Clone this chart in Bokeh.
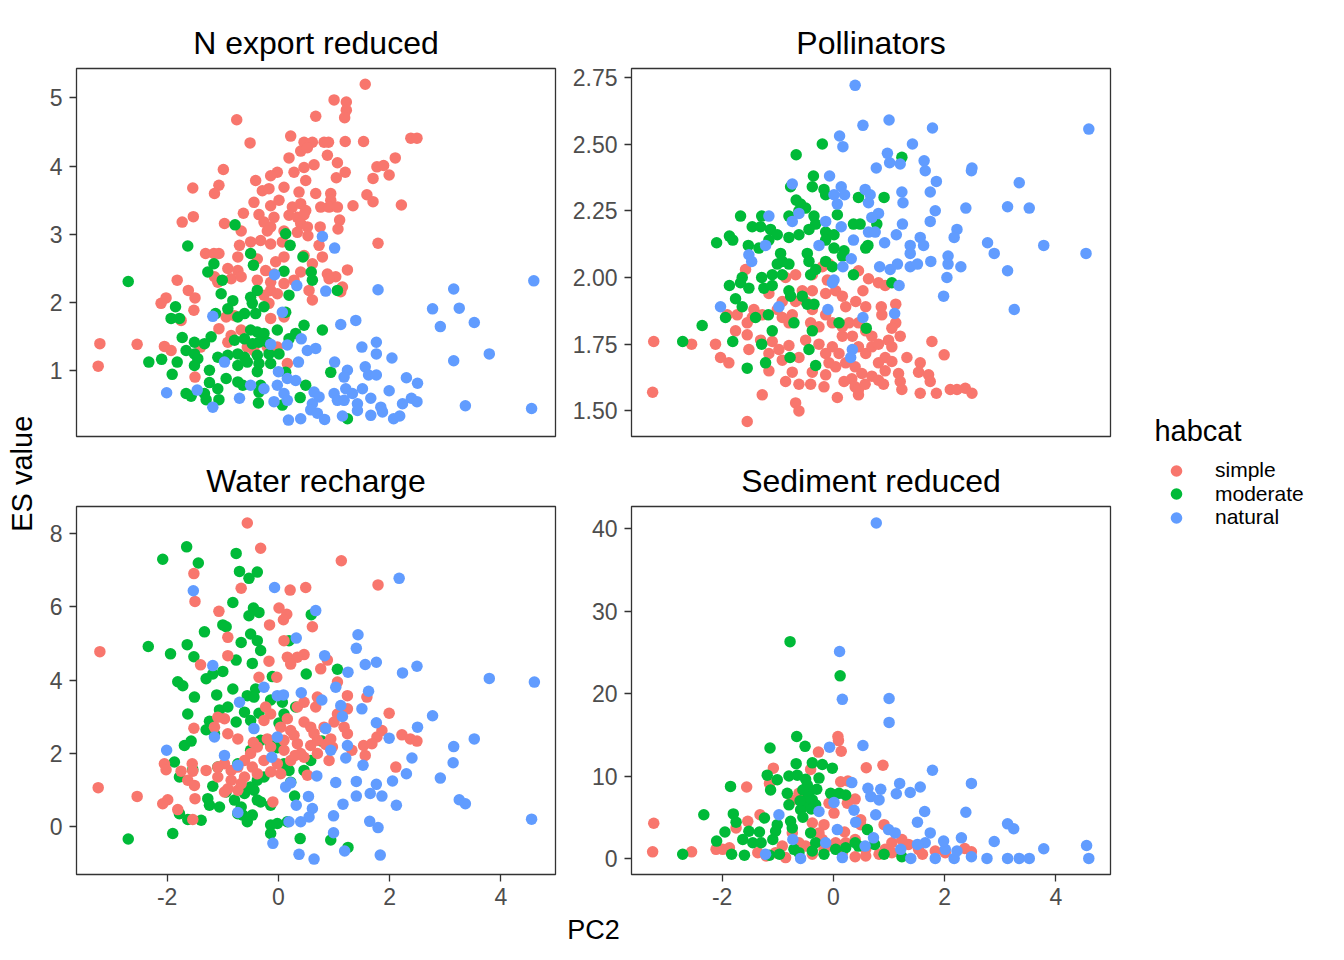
from math import pi
from bokeh.plotting import figure
from bokeh.models import Range1d, FixedTicker, Legend, LegendItem, Label, ColumnDataSource
from bokeh.layouts import row, column
from bokeh.embed import file_html
from bokeh.resources import INLINE

FONT = "Liberation Sans"

categories = ["simple", "moderate", "natural"]
colors = ["#F8766D", "#00BA38", "#619CFF"]

x_ticks = [-2, 0, 2, 4]
x_tick_labels = ["-2", "0", "2", "4"]

# ---------------- N export reduced (PC2, ES value) ----------------
nexp_simple = [(1.56,5.20),(1.00,4.97),(1.22,4.94),(1.22,4.82),(1.19,4.71),(0.67,4.73),(-0.75,4.68),(0.22,4.44),(2.38,4.41),(2.49,4.41),(1.53,4.36),(1.20,4.36),(0.46,4.35),(0.61,4.35),(0.82,4.35),(0.90,4.35),(-0.51,4.34),(0.40,4.22),(0.52,4.27),(0.19,4.12),(0.88,4.16),(2.10,4.12),(1.06,4.05),(0.64,4.02),(0.46,3.98),(0.28,3.91),(1.77,3.99),(1.89,4.01),(1.20,3.91),(1.99,3.87),(1.70,3.82),(-0.99,3.95),(-0.02,3.91),(-0.14,3.86),(1.04,3.83),(-0.41,3.79),(0.49,3.79),(-1.54,3.68),(-1.07,3.72),(-1.15,3.60),(-0.29,3.64),(-0.17,3.67),(0.10,3.69),(0.37,3.62),(0.67,3.60),(0.94,3.60),(0.94,3.50),(1.59,3.58),(1.70,3.48),(2.21,3.43),(1.34,3.42),(-0.44,3.47),(-0.14,3.42),(0.01,3.50),(0.25,3.40),(0.40,3.45),(0.49,3.35),(0.76,3.40),(0.91,3.40),(1.06,3.40),(-0.63,3.31),(-0.35,3.29),(-0.08,3.25),(0.19,3.28),(0.34,3.25),(0.46,3.29),(-1.53,3.26),(-1.73,3.18),(-0.97,3.16),(-0.26,3.18),(-0.14,3.11),(0.40,3.16),(0.52,3.11),(1.10,3.21),(0.75,3.11),(1.07,3.08),(-0.67,3.05),(-0.20,3.05),(0.10,3.05),(0.34,3.03),(0.53,2.98),(1.79,2.87),(-0.50,2.89),(-0.32,2.91),(-0.14,2.86),(0.07,2.89),(0.73,2.84),(-0.70,2.84),(-1.31,2.72),(-1.16,2.72),(-1.07,2.72),(-0.73,2.67),(-0.38,2.64),(-0.05,2.60),(0.10,2.67),(0.46,2.69),(0.61,2.57),(0.79,2.67),(1.24,2.48),(-0.91,2.50),(-0.73,2.47),(-0.23,2.47),(-0.08,2.42),(0.40,2.45),(0.88,2.42),(1.03,2.38),(0.91,2.35),(-1.15,2.38),(-1.09,2.30),(-1.82,2.33),(-0.85,2.35),(-0.67,2.38),(-0.38,2.33),(-0.14,2.30),(0.10,2.28),(0.28,2.33),(1.15,2.23),(1.12,2.16),(0.55,2.18),(-1.62,2.18),(-1.50,2.07),(-2.02,2.07),(-2.11,1.99),(-0.14,2.18),(-0.02,2.13),(-0.26,2.11),(0.61,2.04),(-0.17,1.99),(-1.52,1.89),(-0.94,1.79),(-0.79,1.81),(-0.14,1.77),(0.10,1.79),(-1.75,1.74),(-1.07,1.62),(-0.67,1.60),(-0.85,1.52),(-0.91,1.42),(-3.21,1.40),(-2.54,1.39),(-2.05,1.36),(-1.93,1.30),(-1.40,1.35),(-0.56,1.35),(-0.44,1.30),(-0.20,1.35),(-0.02,1.35),(-3.24,1.07),(-1.50,0.91),(0.16,1.11)]
nexp_moderate = [(-2.70,2.31),(-1.63,2.83),(-0.78,3.14),(0.13,3.01),(0.21,2.84),(0.44,2.67),(-0.50,2.72),(-0.45,2.55),(-1.16,2.57),(-1.27,2.45),(0.10,2.46),(0.59,2.45),(0.61,2.33),(-1.01,2.33),(1.06,2.18),(-1.03,2.13),(-0.82,2.03),(-0.50,2.08),(-0.38,2.18),(-0.47,1.99),(0.19,2.11),(-1.85,1.94),(-1.93,1.77),(-1.78,1.77),(-1.13,1.84),(-0.91,1.91),(-0.73,1.79),(-0.61,1.84),(-0.41,1.84),(-0.26,1.94),(0.13,1.86),(0.46,1.67),(0.79,1.60),(-0.02,1.60),(-1.73,1.49),(-1.51,1.42),(-1.33,1.40),(-1.21,1.50),(-0.79,1.45),(-0.61,1.47),(-0.50,1.60),(-0.38,1.57),(-0.26,1.55),(-0.47,1.40),(-0.35,1.42),(-0.20,1.42),(0.19,1.47),(0.31,1.55),(-1.66,1.30),(-1.51,1.25),(-1.45,1.18),(-2.33,1.13),(-2.10,1.17),(-1.82,1.13),(-1.09,1.20),(-0.91,1.23),(-0.73,1.25),(-0.61,1.20),(-0.38,1.23),(-0.17,1.25),(0.01,1.25),(-1.51,1.08),(-1.24,1.01),(-0.73,1.08),(-0.56,1.13),(-0.35,1.11),(-0.14,1.11),(-1.91,0.95),(-0.94,0.89),(-0.38,0.99),(0.13,0.98),(0.94,0.98),(-1.24,0.83),(-1.09,0.74),(-0.73,0.84),(-0.64,0.79),(-0.32,0.79),(-0.35,0.69),(-1.66,0.67),(-1.57,0.63),(-1.33,0.67),(-1.30,0.58),(-1.07,0.58),(0.49,0.79),(0.39,0.61),(-0.36,0.53),(0.07,0.50),(1.24,0.30)]
nexp_natural = [(4.59,2.32),(1.79,2.19),(3.15,2.20),(2.77,1.91),(3.25,1.92),(2.91,1.65),(3.52,1.71),(1.01,2.80),(0.79,2.97),(0.85,2.17),(0.33,2.25),(-0.07,2.41),(0.07,1.86),(-1.18,1.80),(1.12,1.68),(1.39,1.74),(1.76,1.42),(1.50,1.35),(1.76,1.25),(2.04,1.19),(3.79,1.25),(3.15,1.15),(0.41,1.47),(-0.14,1.39),(0.16,1.38),(0.52,1.30),(0.67,1.33),(0.36,1.13),(1.01,1.13),(1.24,1.01),(1.18,0.91),(1.56,1.06),(1.62,0.94),(1.76,0.94),(2.30,0.90),(2.50,0.82),(1.99,0.71),(0.00,0.99),(0.16,0.89),(0.31,0.86),(-0.97,1.13),(-2.01,0.68),(-1.46,0.72),(-0.70,0.60),(-1.18,0.47),(-0.50,0.79),(-0.26,0.74),(-0.02,0.79),(0.10,0.67),(0.16,0.57),(-0.08,0.55),(0.64,0.69),(0.73,0.62),(0.61,0.52),(0.58,0.43),(0.70,0.38),(1.00,0.67),(1.06,0.57),(1.18,0.57),(1.21,0.74),(1.33,0.67),(1.51,0.74),(1.42,0.52),(1.42,0.42),(1.66,0.60),(1.84,0.47),(1.87,0.40),(2.23,0.52),(2.39,0.60),(2.49,0.55),(2.07,0.30),(2.18,0.34),(1.66,0.35),(1.15,0.34),(0.18,0.28),(0.40,0.30),(0.83,0.29),(3.36,0.49),(4.55,0.45)]

# ---------------- Pollinators ----------------
poll_simple = [(-3.23,1.76),(-3.25,1.57),(-2.55,1.75),(-1.55,1.46),(-1.28,1.56),(-0.68,1.53),(-0.62,1.50),(0.07,1.55),(0.45,1.56),(-2.12,1.75),(-2.03,1.70),(-1.88,1.68),(-1.76,1.80),(-1.55,1.785),(-1.52,1.73),(-1.58,2.03),(-1.91,1.86),(-1.73,1.86),(-1.43,1.88),(-1.16,1.94),(-1.01,1.88),(-1.31,1.765),(-1.16,1.715),(-1.10,1.76),(-0.98,1.73),(-0.92,1.85),(-0.80,1.83),(-0.74,1.86),(-0.68,1.91),(-0.92,1.91),(-1.16,1.65),(-0.92,1.69),(-0.80,1.745),(-0.74,1.645),(-0.86,1.61),(-0.62,1.60),(-0.41,1.60),(-0.17,1.59),(-0.38,1.645),(-0.14,1.635),(-0.50,1.765),(-0.56,1.95),(-0.38,1.95),(-0.86,2.00),(-0.68,2.01),(-0.41,1.83),(-0.14,1.86),(-0.02,1.83),(-0.26,1.815),(-0.08,2.05),(-0.11,1.99),(-0.14,1.94),(0.04,1.95),(0.16,1.93),(-0.26,1.75),(-0.02,1.74),(-0.14,1.715),(0.10,1.715),(0.22,1.68),(-0.08,1.68),(0.04,1.665),(0.16,1.78),(0.34,1.78),(0.22,1.89),(0.40,1.91),(0.58,1.89),(0.45,2.025),(0.63,1.995),(0.81,1.98),(0.93,1.97),(0.53,1.95),(0.16,1.815),(0.28,1.83),(0.45,1.83),(0.58,1.80),(0.69,1.78),(0.45,1.74),(0.58,1.715),(0.69,1.74),(0.81,1.75),(0.99,1.765),(1.05,1.74),(0.86,1.89),(0.87,1.86),(1.12,1.90),(1.12,1.83),(1.05,1.81),(1.20,1.78),(1.32,1.70),(0.93,1.70),(0.81,1.68),(0.93,1.65),(1.05,1.685),(0.39,1.665),(0.51,1.64),(0.33,1.62),(0.19,1.61),(0.39,1.59),(0.45,1.58),(0.57,1.60),(0.69,1.63),(0.81,1.615),(0.90,1.60),(1.17,1.64),(1.20,1.61),(1.23,1.58),(1.56,1.68),(1.53,1.645),(1.71,1.635),(1.74,1.61),(1.56,1.566),(1.85,1.566),(1.77,1.76),(1.99,1.71),(2.10,1.58),(2.22,1.58),(2.37,1.585),(2.49,1.566),(-0.38,2.01),(-0.20,2.04),(-0.50,1.91),(-0.38,1.88),(-0.62,1.70),(-1.46,1.85),(-1.55,1.83),(-1.28,1.86)]
poll_moderate = [(-0.67,2.46),(-0.20,2.50),(1.23,2.45),(-0.36,2.38),(-0.38,2.34),(-0.17,2.33),(-0.14,2.31),(-0.77,2.34),(0.45,2.30),(0.91,2.30),(-0.67,2.29),(-0.59,2.275),(-0.50,2.26),(-1.67,2.23),(-1.29,2.23),(-1.46,2.19),(-1.31,2.19),(-0.80,2.23),(-0.62,2.25),(-0.35,2.23),(-0.32,2.20),(-0.44,2.18),(0.07,2.235),(0.78,2.20),(0.36,2.20),(0.48,2.20),(-1.13,2.18),(-1.01,2.16),(-1.16,2.14),(-0.80,2.15),(-0.62,2.16),(-0.14,2.17),(0.01,2.16),(-0.14,2.14),(-1.87,2.155),(-1.81,2.14),(-2.10,2.13),(-1.53,2.12),(-1.34,2.11),(-0.95,2.09),(-0.92,2.06),(0.01,2.11),(0.19,2.10),(0.16,2.08),(0.62,2.12),(0.58,2.11),(-0.47,2.09),(-0.44,2.06),(-1.01,2.05),(-0.80,2.05),(-0.14,2.06),(-0.02,2.04),(-1.10,2.01),(-0.92,2.01),(-1.64,2.00),(-1.29,2.00),(-0.41,2.01),(-0.32,2.03),(0.36,2.01),(-1.87,1.97),(-1.67,1.98),(-1.52,1.96),(-1.25,1.96),(-1.10,1.97),(-0.80,1.95),(-0.77,1.93),(-0.56,1.93),(-0.47,1.90),(-0.35,1.90),(1.05,1.98),(-1.76,1.92),(-1.64,1.89),(-1.94,1.85),(-1.40,1.85),(-1.17,1.86),(-2.36,1.82),(-0.71,1.83),(0.10,1.83),(0.59,1.81),(-1.10,1.80),(-0.38,1.80),(-2.71,1.76),(-1.81,1.76),(-1.29,1.75),(-0.44,1.73),(-0.78,1.70),(-1.22,1.68),(-0.32,1.67),(-1.55,1.66)]
poll_natural = [(0.39,2.72),(0.53,2.57),(1.00,2.59),(1.78,2.56),(4.59,2.556),(0.11,2.53),(0.17,2.49),(1.42,2.50),(0.97,2.465),(1.01,2.43),(1.20,2.425),(1.63,2.437),(1.65,2.40),(0.77,2.41),(2.49,2.41),(2.48,2.40),(-0.07,2.38),(-0.74,2.35),(1.85,2.36),(3.34,2.355),(0.14,2.34),(0.20,2.31),(0.01,2.31),(0.57,2.33),(0.66,2.31),(0.63,2.28),(1.23,2.32),(1.25,2.28),(1.74,2.32),(0.07,2.275),(2.38,2.26),(3.13,2.265),(3.52,2.26),(1.83,2.25),(0.81,2.24),(0.69,2.225),(-1.16,2.23),(-0.62,2.24),(-0.74,2.21),(1.74,2.21),(-0.14,2.21),(0.14,2.19),(1.24,2.20),(2.22,2.18),(2.17,2.15),(0.63,2.17),(0.75,2.17),(1.13,2.16),(0.36,2.14),(1.56,2.15),(1.62,2.12),(2.77,2.13),(3.78,2.12),(0.92,2.13),(-0.26,2.12),(1.38,2.12),(-1.22,2.12),(2.89,2.09),(4.54,2.09),(1.38,2.09),(-1.52,2.085),(-1.47,2.06),(2.06,2.08),(2.06,2.05),(0.32,2.07),(1.75,2.06),(0.17,2.04),(0.83,2.04),(1.02,2.03),(1.15,2.05),(1.38,2.04),(1.51,2.05),(2.29,2.04),(3.13,2.025),(2.04,2.00),(0.01,1.99),(-0.02,1.98),(1.18,1.97),(1.98,1.93),(-2.03,1.89),(-0.98,1.89),(-0.10,1.88),(3.25,1.88),(0.53,1.85),(1.10,1.865),(0.34,1.73),(0.31,1.70)]

# ---------------- Water recharge ----------------
water_simple = [(-0.56,8.29),(-0.32,7.60),(1.13,7.26),(-1.52,6.91),(1.79,6.60),(-0.67,6.51),(0.21,6.46),(0.49,6.53),(-1.50,6.15),(-1.07,5.88),(0.01,5.97),(0.15,5.80),(0.09,5.65),(-0.16,5.51),(0.61,5.46),(-0.91,5.17),(0.10,5.08),(-0.91,4.67),(0.16,4.63),(0.46,4.70),(0.34,4.63),(-3.21,4.78),(-1.40,4.42),(-0.17,4.52),(0.22,4.44),(0.76,4.31),(0.88,4.55),(-0.03,4.08),(-0.35,4.08),(1.06,3.95),(1.24,3.58),(0.70,3.54),(1.59,3.54),(0.34,3.27),(0.46,3.40),(0.67,3.27),(1.06,3.08),(1.24,3.22),(1.99,3.10),(-0.23,3.27),(-0.14,3.08),(-0.26,2.90),(-1.09,2.99),(-0.97,2.95),(-1.52,2.69),(-1.15,2.72),(-0.91,2.54),(-0.73,2.40),(0.04,2.72),(0.22,2.63),(0.46,2.86),(0.58,2.72),(0.82,2.72),(1.00,2.86),(1.18,2.72),(1.24,2.54),(1.77,2.45),(1.86,2.63),(2.22,2.51),(2.37,2.40),(2.49,2.34),(1.53,2.22),(1.68,2.27),(1.32,2.09),(1.56,1.95),(0.10,2.36),(0.34,2.27),(0.58,2.22),(0.70,2.36),(0.94,2.40),(0.97,2.18),(-0.38,2.18),(-0.14,2.18),(0.10,2.09),(-0.50,2.00),(-0.61,1.81),(-0.73,1.63),(-0.26,1.81),(-0.02,1.72),(0.22,1.81),(0.46,1.90),(0.70,2.00),(0.91,1.81),(2.11,1.63),(-0.97,1.72),(-0.85,1.54),(-1.09,1.63),(-2.05,1.72),(-2.02,1.56),(-1.55,1.72),(-1.54,1.52),(-1.75,1.52),(-1.30,1.54),(-0.47,1.63),(-0.38,1.45),(-0.14,1.50),(0.04,1.45),(0.52,1.41),(-1.09,1.36),(-0.85,1.27),(-0.61,1.36),(-1.63,1.27),(-1.51,1.13),(-0.91,1.04),(-0.73,1.00),(-0.67,1.18),(-0.97,0.95),(-3.24,1.07),(-2.54,0.83),(-1.99,0.74),(-2.08,0.63),(-1.50,0.77),(-1.81,0.47),(-0.10,0.68),(-1.54,0.20),(0.28,2.50),(0.40,2.00),(0.64,2.55),(0.16,2.95),(-0.20,2.40),(-0.45,2.30),(0.85,2.25),(0.30,1.95)]
water_moderate = [(-1.65,7.64),(-2.08,7.30),(-1.44,7.20),(-0.76,7.46),(-0.70,6.97),(-0.53,6.78),(-0.38,6.95),(-0.82,6.12),(-0.45,5.97),(-0.35,5.85),(-0.53,5.76),(0.59,5.79),(-1.33,5.32),(-1.00,5.51),(-0.94,5.46),(-0.50,5.26),(-0.38,5.08),(-0.32,4.81),(-0.47,4.46),(-0.67,5.03),(0.19,5.08),(-2.34,4.92),(-1.64,4.97),(-1.94,4.72),(-1.52,4.64),(-0.76,4.55),(-1.00,4.24),(-1.18,4.17),(-1.30,4.04),(-1.81,3.96),(-1.72,3.85),(0.50,4.17),(1.06,4.30),(-0.11,4.10),(-0.82,3.76),(-0.56,3.58),(-0.41,3.76),(-0.44,3.54),(-1.11,3.60),(-1.51,3.54),(-0.14,3.46),(0.07,3.40),(-1.06,3.19),(-0.91,3.27),(-1.63,3.08),(-0.61,3.13),(-0.35,3.10),(0.10,3.08),(0.31,3.27),(-1.24,2.88),(-0.76,2.86),(-0.50,2.90),(0.01,2.83),(-1.30,2.65),(-1.15,2.54),(-1.69,2.22),(-1.57,2.34),(-0.32,2.36),(-0.14,2.22),(-0.02,2.16),(0.78,2.34),(-0.50,2.09),(-1.87,1.77),(-1.54,1.56),(-1.78,1.36),(-1.09,1.63),(-0.73,1.72),(0.10,1.72),(0.19,1.54),(0.58,1.81),(0.46,1.54),(-0.38,1.27),(-0.26,1.36),(-0.50,1.09),(-0.61,0.91),(-0.44,1.00),(-1.18,1.11),(0.22,1.22),(-0.94,0.95),(-1.27,0.77),(-1.24,0.59),(-1.06,0.54),(-0.79,0.73),(-0.67,0.54),(-0.38,0.73),(-0.32,0.68),(0.29,0.84),(-0.14,0.59),(-0.73,0.36),(-0.64,0.32),(-0.47,0.32),(-1.78,0.36),(-1.63,0.20),(-1.39,0.18),(-0.56,0.14),(-0.14,0.05),(-0.02,0.09),(0.16,0.14),(-0.14,-0.18),(-1.90,-0.18),(-2.70,-0.33),(0.39,-0.32),(0.94,-0.36),(1.25,-0.56)]
water_natural = [(2.17,6.78),(-0.07,6.53),(-1.53,6.44),(0.67,5.90),(0.32,5.15),(1.43,5.24),(1.40,4.87),(0.83,4.67),(-1.18,4.40),(1.56,4.43),(1.76,4.49),(2.49,4.38),(2.23,4.20),(1.25,4.22),(3.79,4.05),(4.60,3.95),(-0.26,3.81),(1.03,3.81),(1.62,3.70),(0.41,3.66),(-0.02,3.58),(0.09,3.60),(0.78,3.46),(-0.70,3.40),(1.12,3.31),(1.50,3.22),(1.15,3.01),(2.77,3.03),(1.76,2.84),(0.85,2.68),(2.50,2.72),(-0.44,2.68),(-1.15,2.45),(-0.02,2.45),(1.99,2.42),(3.52,2.40),(1.24,2.22),(3.15,2.19),(-2.01,2.09),(-0.97,1.95),(0.94,2.09),(-0.12,1.90),(2.40,1.88),(1.21,1.88),(3.14,1.75),(1.52,1.68),(-0.73,1.68),(2.30,1.45),(0.69,1.39),(2.91,1.33),(2.05,1.25),(1.03,1.21),(1.40,1.24),(1.76,1.16),(0.13,1.09),(0.22,1.20),(1.65,0.91),(1.86,0.84),(1.40,0.84),(0.54,0.83),(3.25,0.74),(3.36,0.63),(1.16,0.62),(2.12,0.59),(0.32,0.59),(0.61,0.50),(0.55,0.27),(0.99,0.30),(-0.73,0.39),(0.40,0.14),(0.19,0.14),(1.64,0.15),(1.79,-0.02),(4.55,0.21),(0.99,-0.16),(-0.10,-0.45),(1.19,-0.66),(0.37,-0.75),(0.64,-0.88),(1.83,-0.77)]

# ---------------- Sediment reduced ----------------
sed_simple = [(-3.23,4.27),(-3.25,0.8),(-2.55,0.8),(-2.11,1.1),(-1.99,1.1),(-1.87,1.3),(-1.56,8.66),(-1.54,4.5),(-1.75,3.7),(-1.32,5.3),(-1.08,10.95),(-1.15,9.1),(0.08,14.8),(0.09,14.3),(0.14,13.0),(-0.27,12.9),(0.59,11.0),(0.89,11.3),(0.13,9.3),(0.26,9.4),(-0.41,10.8),(0.39,7.2),(0.25,6.7),(-0.08,6.7),(0.01,5.5),(-0.62,7.9),(-0.74,7.1),(0.49,4.7),(0.49,4.1),(0.20,3.2),(-0.38,4.3),(-0.17,4.1),(-0.26,3.1),(0.91,4.1),(1.23,2.3),(1.35,1.7),(1.53,1.1),(1.83,0.9),(2.36,1.2),(2.48,0.8),(-0.20,2.3),(-0.08,1.5),(0.04,1.9),(0.22,1.9),(0.39,2.3),(0.58,1.1),(-0.92,1.5),(-0.86,0.1),(-1.04,0.7),(-1.36,0.7),(-1.21,0.3),(-0.50,1.5),(-0.38,0.5),(0.16,0.7),(0.39,0.2),(0.58,0.3),(0.82,0.5),(1.05,0.7),(1.05,1.9),(0.93,1.1),(1.60,0.5),(2.01,0.7),(-0.74,3.1),(-0.62,1.9),(-0.17,1.1)]
sed_moderate = [(-0.78,26.3),(0.12,22.15),(-0.66,14.8),(-0.51,13.6),(-1.14,13.4),(-1.85,8.74),(-0.67,11.5),(-0.38,11.6),(-0.20,11.4),(-0.02,10.95),(-0.26,9.75),(-1.19,10.1),(-1.01,9.55),(-1.13,8.3),(-0.80,10.0),(-0.65,10.1),(-0.47,8.9),(-0.44,7.9),(-0.38,7.1),(-0.50,6.5),(-0.32,6.5),(-0.59,5.9),(-0.83,7.9),(-0.80,6.5),(-0.05,7.9),(0.10,7.9),(0.22,7.7),(-2.33,5.3),(-1.80,5.4),(-1.75,4.4),(-1.24,4.9),(-1.01,4.1),(-1.04,3.3),(-0.77,4.5),(-0.74,3.7),(0.61,3.5),(-1.95,3.2),(-2.10,2.1),(-1.52,3.3),(-1.63,2.3),(-1.45,1.9),(-1.33,3.2),(-1.30,1.9),(-1.09,2.3),(-0.41,3.1),(-0.32,1.9),(-1.83,0.5),(-1.60,0.4),(-2.71,0.5),(-1.15,0.4),(-0.97,0.5),(-0.71,1.1),(-0.62,0.7),(-0.38,0.9),(-0.17,0.5),(0.04,1.1),(0.22,1.3),(0.45,1.5),(0.74,1.7),(0.91,0.5),(1.23,0.2),(0.39,1.9),(-0.55,8.3),(-0.45,7.4),(-0.60,7.0),(-0.40,6.0),(-0.55,5.0),(-0.30,8.4),(-0.50,9.6)]
sed_natural = [(0.77,40.7),(0.11,25.1),(0.16,19.3),(1.00,19.4),(1.00,16.5),(-0.07,13.5),(0.53,13.7),(1.78,10.7),(2.48,9.1),(1.19,9.1),(1.56,8.66),(1.38,8.0),(1.13,7.85),(0.33,9.2),(0.62,8.5),(0.85,8.4),(0.67,7.5),(0.82,7.1),(0.01,6.8),(0.37,5.85),(-0.26,5.7),(0.76,5.3),(1.64,5.7),(-0.98,5.3),(2.38,5.6),(1.51,4.4),(0.40,4.4),(3.13,4.2),(3.24,3.6),(0.99,3.5),(1.11,3.1),(1.74,3.1),(2.30,2.5),(2.89,2.05),(3.78,1.17),(4.55,1.57),(4.59,0.0),(2.76,0.0),(3.13,0.0),(3.34,0.0),(3.52,0.0),(2.48,0.2),(2.17,0.0),(2.01,1.1),(1.83,0.0),(1.65,1.9),(1.51,1.7),(2.22,0.9),(1.98,2.1),(1.39,0.0),(1.21,1.1),(0.72,2.5),(0.57,1.5),(0.16,0.1),(-0.59,0.0),(-0.73,2.3),(-1.22,0.5),(0.07,3.5),(-0.14,1.9)]

nexp_y_ticks = [1, 2, 3, 4, 5]
nexp_y_labels = ["1", "2", "3", "4", "5"]
poll_y_ticks = [1.5, 1.75, 2, 2.25, 2.5, 2.75]
poll_y_labels = ["1.50", "1.75", "2.00", "2.25", "2.50", "2.75"]
water_y_ticks = [0, 2, 4, 6, 8]
water_y_labels = ["0", "2", "4", "6", "8"]
sed_y_ticks = [0, 10, 20, 30, 40]
sed_y_labels = ["0", "10", "20", "30", "40"]

X_RANGE = (-3.63, 4.98)
DOT = 11.5


def style_axis(ax, ticks, labels, standoff):
    ax.ticker = FixedTicker(ticks=ticks)
    ax.major_label_overrides = dict(zip(ticks, labels))
    ax.axis_line_color = None
    ax.major_tick_line_color = "#333333"
    ax.major_tick_line_width = 1.3
    ax.major_tick_out = 7
    ax.major_tick_in = 0
    ax.minor_tick_line_color = None
    ax.major_label_text_font = FONT
    ax.major_label_text_font_size = "23px"
    ax.major_label_text_color = "#4D4D4D"
    ax.major_label_standoff = standoff


def make_panel(title, series_list, order, y_range, y_ticks, y_labels, show_x, left, right, top, bottom):
    p = figure(frame_width=479, frame_height=368, output_backend="svg", toolbar_location=None,
               x_range=Range1d(*X_RANGE), y_range=Range1d(*y_range),
               min_border_left=left, min_border_right=right,
               min_border_top=top, min_border_bottom=bottom,
               x_axis_location="below" if show_x else None, title=title)
    p.title.align = "center"
    p.title.text_font = FONT
    p.title.text_font_size = "32px"
    p.title.text_font_style = "normal"
    p.title.text_color = "black"
    p.title.standoff = 15
    p.grid.visible = False
    p.outline_line_color = "#333333"
    p.outline_line_width = 1.3
    p.background_fill_color = "white"
    p.border_fill_color = "white"
    style_axis(p.yaxis[0], y_ticks, y_labels, 7)
    if show_x:
        style_axis(p.xaxis[0], x_ticks, x_tick_labels, 6)
    for i in order:
        pts = series_list[i]
        src = ColumnDataSource(dict(x=[a for a, b in pts], y=[b for a, b in pts]))
        p.scatter("x", "y", source=src, size=DOT, fill_color=colors[i], line_color=None)
    return p


f1 = make_panel("N export reduced", [nexp_simple, nexp_moderate, nexp_natural], [0, 1, 2],
                (0.04, 5.43), nexp_y_ticks, nexp_y_labels, False, 31, 12, 68, 10)
f2 = make_panel("Pollinators", [poll_simple, poll_moderate, poll_natural], [0, 1, 2],
                (1.404, 2.783), poll_y_ticks, poll_y_labels, False, 64, 10, 68, 10)
f3 = make_panel("Water recharge", [water_simple, water_moderate, water_natural], [1, 0, 2],
                (-1.3, 8.74), water_y_ticks, water_y_labels, True, 31, 12, 60, 42)
f4 = make_panel("Sediment reduced", [sed_simple, sed_moderate, sed_natural], [0, 1, 2],
                (-1.95, 42.7), sed_y_ticks, sed_y_labels, True, 64, 10, 60, 42)


def blank(**kw):
    p = figure(output_backend="svg", toolbar_location=None, x_range=Range1d(0, 1), y_range=Range1d(0, 1),
               x_axis_location=None, y_axis_location=None, **kw)
    p.grid.visible = False
    p.outline_line_color = None
    p.background_fill_color = "white"
    p.border_fill_color = "white"
    return p


ylab = blank(width=45, height=956, min_border=0)
ylab.add_layout(Label(x=0.467, y=0.505, text="ES value", angle=pi / 2, text_align="center",
                      text_baseline="alphabetic", text_font=FONT, text_font_size="29px",
                      text_color="black"))

xlab = blank(frame_width=1034, frame_height=40, min_border_left=31, min_border_right=10,
             min_border_top=0, min_border_bottom=0)
xlab.add_layout(Label(x=0.5, y=0.675, text="PC2", text_align="center", text_baseline="alphabetic",
                      text_font=FONT, text_font_size="27px", text_color="black"))

# legend panel: title plus one single-row legend per category (tight rows)
leg = blank(frame_width=216, frame_height=956, min_border=0)
leg.add_layout(Label(x=0.157, y=0.5492, text="habcat", text_align="left", text_baseline="alphabetic",
                     text_font=FONT, text_font_size="29px", text_color="black"))
legend_offsets = [471.5, 448.0, 424.5]
for name, c, off in zip(categories, colors, legend_offsets):
    # one off-canvas key point per category, only so the legend can draw its key
    r = leg.scatter([-5], [-5], size=DOT, fill_color=c, line_color=None)
    lg = Legend(items=[LegendItem(label=name, renderers=[r])], location=(34, off))
    lg.label_text_font = FONT
    lg.label_text_font_size = "21px"
    lg.label_text_color = "black"
    lg.glyph_width = 44
    lg.glyph_height = 29
    lg.label_height = 23
    lg.label_standoff = 17
    lg.spacing = 0
    lg.padding = 5
    lg.margin = 0
    lg.border_line_color = None
    lg.background_fill_alpha = 0
    leg.add_layout(lg)

layout = row(ylab, column(row(f1, f2), row(f3, f4), xlab), leg)

with open("out.html", "w") as fh:
    fh.write(file_html(layout, INLINE))
